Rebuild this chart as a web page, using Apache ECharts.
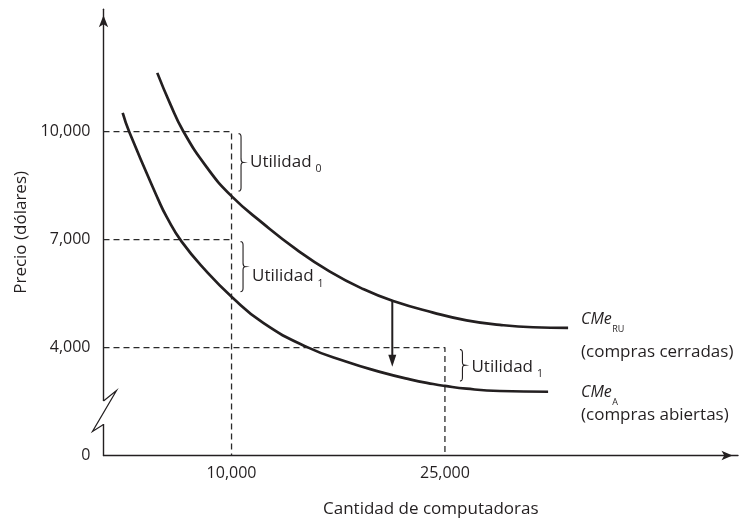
<!DOCTYPE html>
<html>
<head>
<meta charset="utf-8">
<script src="https://cdn.jsdelivr.net/npm/echarts@6/dist/echarts.min.js"></script>
<style>html,body{margin:0;padding:0;background:#fff}#c{width:739px;height:524px}</style>
</head>
<body>
<div id="c"></div>
<script>
// ---------- data ----------
// CMe_RU (compras cerradas)
const qRU   = [4780, 5672, 6607, 8251, 10000, 12228, 14574, 16914, 19253, 21361, 24171, 26518, 28858, 31198, 33657];
const cmeRU = [11633, 10786, 10011, 9014, 8208, 7444, 6722, 6111, 5625, 5292, 4972, 4756, 4631, 4564, 4547];
// CMe_A (compras abiertas)
const qA    = [2349, 2813, 4850, 5440, 6494, 8251, 10000, 12228, 15277, 18087, 20427, 22534, 24171, 25000, 26518, 28858, 32251];
const cmeA  = [10522, 9992, 8111, 7631, 6944, 6111, 5414, 4683, 4019, 3603, 3325, 3117, 2986, 2933, 2856, 2792, 2772];

// axis ticks (y axis is broken: its lowest value is shown as "0")
const xTicks = [10000, 25000];
const xTickLabels = ['10,000', '25,000'];
const yTicks = [1000, 4000, 7000, 10000];
const yTickLabels = ['0', '4,000', '7,000', '10,000'];
const xAxisMin = 1000, xAxisMax = 45600;
const yAxisMin = 1000, yAxisMax = 13400;

// dashed guides: price level, quantity, drop to axis?
const guidePrice = [10000, 7000, 4000];
const guideQty   = [10000, 10000, 25000];
const guideDrop  = [true, false, true];

// profit braces: quantity, price, average cost
const braceQty    = [10000, 10000, 25000];
const braceTop    = [10000, 7000, 4000];
const braceBottom = [8208, 5414, 2933];
const braceText   = ['Utilidad', 'Utilidad', 'Utilidad'];
const braceSub    = ['0', '1', '1'];

// downward shift arrow: quantity, from, to
const shiftQty = 21300, shiftFrom = 5300, shiftTo = 3467;

// ---------- layout / style ----------
const FONT = '"Open Sans", sans-serif';
const INK = '#231f20';
const braceDx = [7, 9, 15];
const braceLabelDy = [0, 10, 2];
const braceInset = [2, 5];

const ctx = document.createElement('canvas').getContext('2d');
function tw(txt, size, style) { ctx.font = (style || 'normal') + ' ' + size + 'px ' + FONT; return ctx.measureText(txt).width; }

function quadPts(p0, c, p1, n) {
  const out = [];
  for (let k = 1; k <= n; k++) {
    const t = k / n, a = (1 - t) * (1 - t), b = 2 * (1 - t) * t, d = t * t;
    out.push([a * p0[0] + b * c[0] + d * p1[0], a * p0[1] + b * c[1] + d * p1[1]]);
  }
  return out;
}

function braceItem(params, api) {
  const i = params.dataIndex;
  const top = api.coord([api.value(0), api.value(1)]);
  const bot = api.coord([api.value(0), api.value(2)]);
  const x0 = top[0] + braceDx[i];
  const y0 = top[1] + braceInset[0], y1 = bot[1] - braceInset[1];
  const ym = (y0 + y1) / 2, w = 5, r = 3.5, xm = x0 + w / 2;
  let pts = [[x0, y0]];
  pts = pts.concat(quadPts([x0, y0], [xm, y0], [xm, y0 + r], 6));
  pts.push([xm, ym - r]);
  pts = pts.concat(quadPts([xm, ym - r], [xm, ym], [x0 + w, ym], 6));
  pts = pts.concat(quadPts([x0 + w, ym], [xm, ym], [xm, ym + r], 6));
  pts.push([xm, y1 - r]);
  pts = pts.concat(quadPts([xm, y1 - r], [xm, y1], [x0, y1], 6));
  const tx = x0 + w + 6.5, ty = ym + braceLabelDy[i];
  const mainW = tw(braceText[i], 17);
  return {
    type: 'group',
    children: [
      { type: 'polyline', shape: { points: pts }, style: { stroke: INK, lineWidth: 1.1, fill: null } },
      { type: 'text', style: { text: braceText[i], x: tx, y: ty, fill: INK, fontSize: 17, fontFamily: FONT, align: 'left', verticalAlign: 'middle' } },
      { type: 'text', style: { text: braceSub[i], x: tx + mainW + 4, y: ty + 7, fill: INK, fontSize: 10.5, fontFamily: FONT, align: 'left', verticalAlign: 'middle' } }
    ]
  };
}

function arrowItem(params, api) {
  const a = api.coord([api.value(0), api.value(1)]);
  const b = api.coord([api.value(0), api.value(2)]);
  const head = 12, half = 4;
  return {
    type: 'group',
    children: [
      { type: 'line', shape: { x1: a[0], y1: a[1], x2: b[0], y2: b[1] - head + 2 }, style: { stroke: INK, lineWidth: 2 } },
      { type: 'polygon', shape: { points: [[b[0], b[1]], [b[0] - half, b[1] - head], [b[0] + half, b[1] - head]] }, style: { fill: INK } }
    ]
  };
}

const series = [];
guidePrice.forEach((p, i) => {
  const d = [[xAxisMin, p], [guideQty[i], p]];
  if (guideDrop[i]) d.push([guideQty[i], yAxisMin]);
  series.push({
    type: 'line', data: d, symbol: 'none', silent: true, z: 1,
    lineStyle: { color: '#2a2a2a', width: 1.3, type: [6, 4] }
  });
});
series.push({
  type: 'line', name: 'CMe_RU', data: qRU.map((q, i) => [q, cmeRU[i]]),
  symbol: 'none', smooth: 0.5, z: 3, lineStyle: { color: INK, width: 2.7 }
});
series.push({
  type: 'line', name: 'CMe_A', data: qA.map((q, i) => [q, cmeA[i]]),
  symbol: 'none', smooth: 0.5, z: 3, lineStyle: { color: INK, width: 2.7 }
});
series.push({
  type: 'custom', renderItem: braceItem, z: 4, silent: true,
  data: braceQty.map((q, i) => [q, braceTop[i], braceBottom[i]])
});
series.push({
  type: 'custom', renderItem: arrowItem, z: 4, silent: true,
  data: [[shiftQty, shiftFrom, shiftTo]]
});

// curve labels (layout)
const curveLabels = [
  { main: 'CMe', sub: 'RU', note: '(compras cerradas)', x: 581, y: 319, subDy: 10, noteY: 352 },
  { main: 'CMe', sub: 'A', note: '(compras abiertas)', x: 581, y: 392, subDy: 10, noteY: 415 }
];
const graphics = [];
curveLabels.forEach(l => {
  const w = tw(l.main, 16, 'italic');
  graphics.push({ type: 'text', x: l.x, y: l.y, style: { text: l.main, fill: INK, font: 'italic 16px ' + FONT, textAlign: 'left', textVerticalAlign: 'middle', align: 'left', verticalAlign: 'middle' } });
  graphics.push({ type: 'text', x: l.x + w + 0.5, y: l.y + l.subDy, style: { text: l.sub, fill: INK, font: '9px ' + FONT, textAlign: 'left', textVerticalAlign: 'middle', align: 'left', verticalAlign: 'middle' } });
  graphics.push({ type: 'text', x: l.x, y: l.noteY, style: { text: l.note, fill: INK, font: '17px ' + FONT, textAlign: 'left', textVerticalAlign: 'middle', align: 'left', verticalAlign: 'middle' } });
});
// y axis break mark
graphics.push({ type: 'rect', z: 100, shape: { x: 100, y: 401, width: 8, height: 23 }, style: { fill: '#fff' } });
graphics.push({ type: 'polyline', z: 101, shape: { points: [[103.5, 401], [116.5, 390.5], [92.5, 431.5], [103.5, 424.5]] }, style: { stroke: INK, lineWidth: 1.2, fill: null } });

const chart = echarts.init(document.getElementById('c'), null, { renderer: 'canvas' });
chart.setOption({
  animation: false,
  backgroundColor: '#fff',
  grid: { left: 103.5, right: 1, top: 9.3, bottom: 68.5, containLabel: false },
  xAxis: {
    type: 'value', min: xAxisMin, max: xAxisMax,
    splitLine: { show: false },
    axisLine: { onZero: false, lineStyle: { color: INK, width: 1.4 }, symbol: ['none', 'arrow'], symbolSize: [7, 11], symbolOffset: [0, -5.5] },
    axisTick: { show: false },
    axisLabel: { customValues: xTicks, formatter: v => { const k = xTicks.indexOf(v); return k >= 0 ? xTickLabels[k] : ''; }, fontSize: 16, color: INK, fontFamily: FONT, margin: 10 },
    name: 'Cantidad de computadoras', nameLocation: 'middle', nameGap: 45,
    nameTextStyle: { fontSize: 17, color: INK, fontFamily: FONT, padding: [0, 0, 0, 20] }
  },
  yAxis: {
    type: 'value', min: yAxisMin, max: yAxisMax,
    splitLine: { show: false },
    axisLine: { onZero: false, lineStyle: { color: INK, width: 1.4 }, symbol: ['none', 'arrow'], symbolSize: [7, 12], symbolOffset: [0, -6] },
    axisTick: { show: false },
    axisLabel: { customValues: yTicks, formatter: v => { const k = yTicks.indexOf(v); return k >= 0 ? yTickLabels[k] : ''; }, fontSize: 16, color: INK, fontFamily: FONT, margin: 13 },
    name: 'Precio (dólares)', nameLocation: 'middle', nameGap: 72,
    nameTextStyle: { fontSize: 17, color: INK, fontFamily: FONT }
  },
  graphic: { elements: graphics },
  series: series
});
</script>
</body>
</html>
